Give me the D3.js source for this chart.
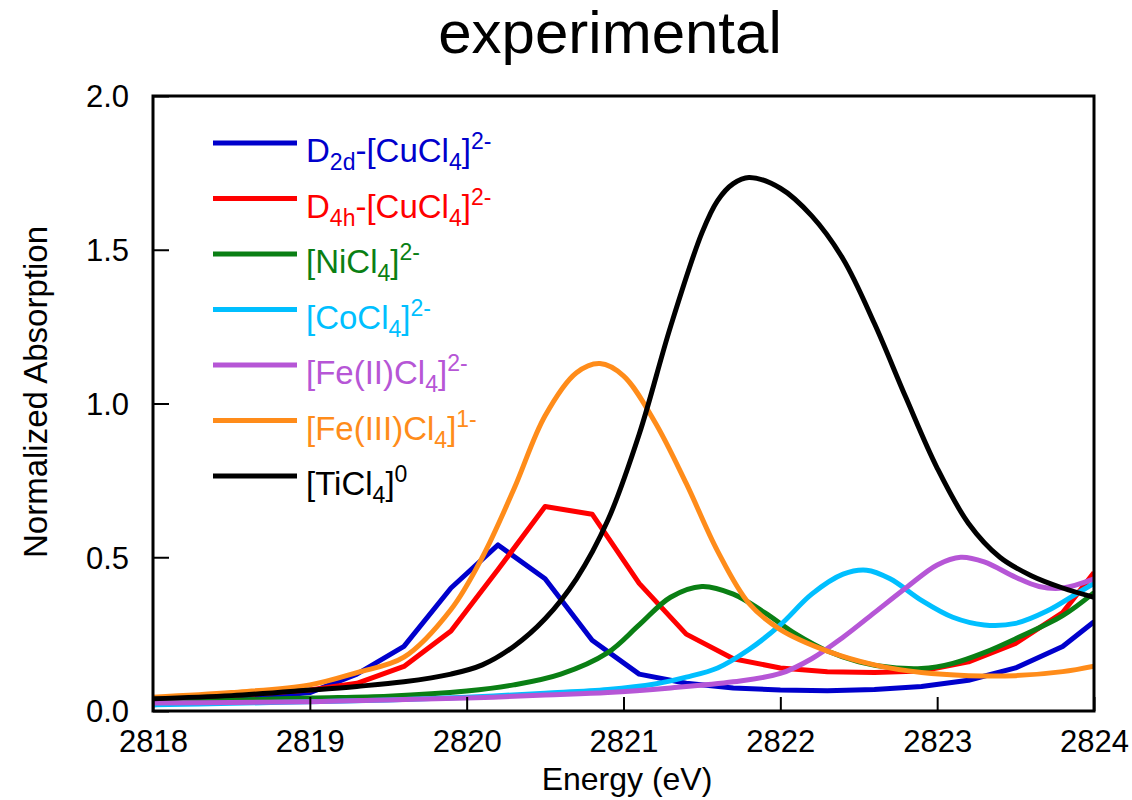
<!DOCTYPE html>
<html>
<head>
<meta charset="utf-8">
<script src="https://cdn.jsdelivr.net/npm/d3@7"></script>
<style>
  html, body { margin: 0; padding: 0; background: #fff; }
  svg { display: block; }
  text { font-family: "Liberation Sans", Arial, Helvetica, sans-serif; }
</style>
</head>
<body>
<svg id="chart" width="1132" height="800"></svg>
<script>
// Cl K-edge pre-edge spectra: [energy (eV), normalized absorption]
const cuD2d = [
  [2818.0, 0.020], [2818.5, 0.035], [2819.0, 0.060], [2819.3, 0.12], [2819.6, 0.21],
  [2819.9, 0.40], [2820.2, 0.54], [2820.5, 0.43], [2820.8, 0.23], [2821.1, 0.12],
  [2821.4, 0.09], [2821.7, 0.075], [2822.0, 0.068], [2822.3, 0.066], [2822.6, 0.070],
  [2822.9, 0.080], [2823.2, 0.10], [2823.5, 0.14], [2823.8, 0.21], [2824.0, 0.29]
];
const cuD4h = [
  [2818.0, 0.035], [2818.5, 0.050], [2819.0, 0.068], [2819.3, 0.09], [2819.6, 0.145],
  [2819.9, 0.26], [2820.2, 0.46], [2820.5, 0.665], [2820.8, 0.64], [2821.1, 0.415],
  [2821.4, 0.25], [2821.7, 0.17], [2822.0, 0.14], [2822.3, 0.128], [2822.6, 0.125],
  [2822.9, 0.13], [2823.2, 0.16], [2823.5, 0.22], [2823.8, 0.32], [2824.0, 0.45]
];
const niCl4 = [
  [2818.0, 0.030], [2818.5, 0.035], [2819.0, 0.042], [2819.5, 0.048], [2820.0, 0.065],
  [2820.3, 0.085], [2820.6, 0.12], [2820.9, 0.19], [2821.1, 0.28], [2821.3, 0.37],
  [2821.5, 0.405], [2821.7, 0.38], [2821.9, 0.32], [2822.1, 0.25], [2822.3, 0.195],
  [2822.5, 0.16], [2822.7, 0.142], [2822.9, 0.138], [2823.1, 0.155], [2823.3, 0.19],
  [2823.5, 0.235], [2823.8, 0.31], [2824.0, 0.385]
];
const coCl4 = [
  [2818.0, 0.020], [2818.5, 0.025], [2819.0, 0.030], [2819.5, 0.036], [2820.0, 0.045],
  [2820.5, 0.058], [2820.9, 0.070], [2821.2, 0.088], [2821.4, 0.11], [2821.6, 0.14],
  [2821.8, 0.20], [2822.0, 0.28], [2822.2, 0.38], [2822.4, 0.445], [2822.55, 0.458],
  [2822.7, 0.43], [2822.9, 0.36], [2823.1, 0.305], [2823.3, 0.28], [2823.5, 0.285],
  [2823.7, 0.325], [2823.9, 0.385], [2824.0, 0.415]
];
const fe2Cl4 = [
  [2818.0, 0.026], [2818.5, 0.028], [2819.0, 0.030], [2819.5, 0.036], [2820.0, 0.042],
  [2820.5, 0.052], [2820.9, 0.060], [2821.3, 0.075], [2821.7, 0.095], [2822.0, 0.122],
  [2822.2, 0.17], [2822.4, 0.24], [2822.6, 0.32], [2822.8, 0.40], [2823.0, 0.475],
  [2823.15, 0.50], [2823.3, 0.485], [2823.5, 0.435], [2823.65, 0.405], [2823.8, 0.40],
  [2824.0, 0.43]
];
const fe3Cl4 = [
  [2818.0, 0.045], [2818.5, 0.060], [2819.0, 0.085], [2819.3, 0.125], [2819.6, 0.175],
  [2819.9, 0.33], [2820.1, 0.50], [2820.3, 0.72], [2820.5, 0.96], [2820.7, 1.10],
  [2820.85, 1.13], [2821.0, 1.09], [2821.2, 0.94], [2821.4, 0.74], [2821.6, 0.52],
  [2821.8, 0.35], [2822.0, 0.265], [2822.3, 0.195], [2822.6, 0.15], [2822.9, 0.125],
  [2823.2, 0.115], [2823.5, 0.115], [2823.8, 0.128], [2824.0, 0.146]
];
const tiCl4 = [
  [2818.0, 0.040], [2818.5, 0.050], [2819.0, 0.068], [2819.3, 0.080], [2819.6, 0.095],
  [2819.9, 0.12], [2820.1, 0.15], [2820.3, 0.21], [2820.5, 0.30], [2820.7, 0.43],
  [2820.9, 0.62], [2821.1, 0.90], [2821.3, 1.25], [2821.5, 1.555], [2821.6, 1.66],
  [2821.7, 1.715], [2821.8, 1.735], [2822.0, 1.70], [2822.2, 1.61], [2822.4, 1.47],
  [2822.6, 1.26], [2822.8, 1.02], [2823.0, 0.79], [2823.2, 0.61], [2823.4, 0.50],
  [2823.6, 0.44], [2823.8, 0.40], [2824.0, 0.37]
];

// Legend labels as text runs: [text, "sub" | "sup" | ""]
const seriesLabels = [
  [["D", ""], ["2d", "sub"], ["-[CuCl", ""], ["4", "sub"], ["]", ""], ["2-", "sup"]],
  [["D", ""], ["4h", "sub"], ["-[CuCl", ""], ["4", "sub"], ["]", ""], ["2-", "sup"]],
  [["[NiCl", ""], ["4", "sub"], ["]", ""], ["2-", "sup"]],
  [["[CoCl", ""], ["4", "sub"], ["]", ""], ["2-", "sup"]],
  [["[Fe(II)Cl", ""], ["4", "sub"], ["]", ""], ["2-", "sup"]],
  [["[Fe(III)Cl", ""], ["4", "sub"], ["]", ""], ["1-", "sup"]],
  [["[TiCl", ""], ["4", "sub"], ["]", ""], ["0", "sup"]]
];
const seriesColors = ["#0000cc", "#ff0000", "#0a7f14", "#00bfff", "#b656d6", "#ff8c1a", "#000000"];
const seriesData = [cuD2d, cuD4h, niCl4, coCl4, fe2Cl4, fe3Cl4, tiCl4];
const smooth = d3.curveCatmullRom.alpha(0.5);
const seriesCurves = [d3.curveLinear, d3.curveLinear, smooth, smooth, smooth, smooth, smooth];

const xTicks = [2818, 2819, 2820, 2821, 2822, 2823, 2824];
const yTicks = [0.0, 0.5, 1.0, 1.5, 2.0];

const svg = d3.select("#chart");
const plot = { left: 153, right: 1094, top: 96, bottom: 711 };

const x = d3.scaleLinear().domain([2818, 2824]).range([plot.left, plot.right]);
const y = d3.scaleLinear().domain([0, 2]).range([plot.bottom, plot.top]);

// Title
svg.append("text")
  .attr("x", 610).attr("y", 53)
  .attr("text-anchor", "middle")
  .style("font-size", "60px")
  .attr("fill", "#000")
  .text("experimental");

// Curves, clipped to the frame
svg.append("clipPath").attr("id", "plot-clip")
  .append("rect")
  .attr("x", plot.left).attr("y", plot.top)
  .attr("width", plot.right - plot.left).attr("height", plot.bottom - plot.top);

const curves = svg.append("g").attr("clip-path", "url(#plot-clip)");
seriesData.forEach((data, i) => {
  const line = d3.line().x(d => x(d[0])).y(d => y(d[1])).curve(seriesCurves[i]);
  curves.append("path")
    .datum(data)
    .attr("d", line)
    .attr("fill", "none")
    .attr("stroke", seriesColors[i])
    .attr("stroke-width", 5)
    .attr("stroke-linejoin", "round")
    .attr("stroke-linecap", "butt");
});

// Axes with inward ticks
const xAxis = svg.append("g")
  .attr("transform", `translate(0,${plot.bottom})`)
  .call(d3.axisBottom(x).tickValues(xTicks).tickFormat(d3.format("d")).tickSize(-14).tickPadding(19));
const yAxis = svg.append("g")
  .attr("transform", `translate(${plot.left},0)`)
  .call(d3.axisLeft(y).tickValues(yTicks).tickFormat(d3.format(".1f")).tickSize(-16).tickPadding(24));

[xAxis, yAxis].forEach(g => {
  g.select(".domain").remove();
  g.selectAll(".tick line").attr("stroke", "#000").attr("stroke-width", 2);
  g.selectAll(".tick text")
    .attr("fill", "#000")
    .style("font-size", "31px")
    .style("font-family", "'Liberation Sans', Arial, sans-serif");
});
xAxis.selectAll(".tick text").attr("dy", "0.71em");
yAxis.selectAll(".tick text").attr("dy", "0.35em");

// Frame
svg.append("rect")
  .attr("x", plot.left).attr("y", plot.top)
  .attr("width", plot.right - plot.left).attr("height", plot.bottom - plot.top)
  .attr("fill", "none").attr("stroke", "#000").attr("stroke-width", 3);

// Axis titles
svg.append("text")
  .attr("x", 627).attr("y", 790)
  .attr("text-anchor", "middle")
  .style("font-size", "32px")
  .attr("fill", "#000")
  .text("Energy (eV)");

svg.append("text")
  .attr("transform", `translate(47,392) rotate(-90)`)
  .attr("text-anchor", "middle")
  .style("font-size", "33px")
  .attr("fill", "#000")
  .text("Normalized Absorption");

// Legend
const legend = svg.append("g");
seriesLabels.forEach((runs, i) => {
  const ly = 143 + i * 55.5;
  legend.append("line")
    .attr("x1", 213).attr("x2", 297)
    .attr("y1", ly).attr("y2", ly)
    .attr("stroke", seriesColors[i]).attr("stroke-width", 5);
  const t = legend.append("text")
    .attr("x", 306).attr("y", ly + 19)
    .attr("fill", seriesColors[i])
    .style("font-size", "33px");
  let shift = 0;
  runs.forEach(([txt, kind]) => {
    const target = kind === "sub" ? 8 : kind === "sup" ? -13 : 0;
    const span = t.append("tspan")
      .attr("dy", target - shift)
      .text(txt);
    if (kind) span.style("font-size", "23px");
    shift = target;
  });
});
</script>
</body>
</html>
